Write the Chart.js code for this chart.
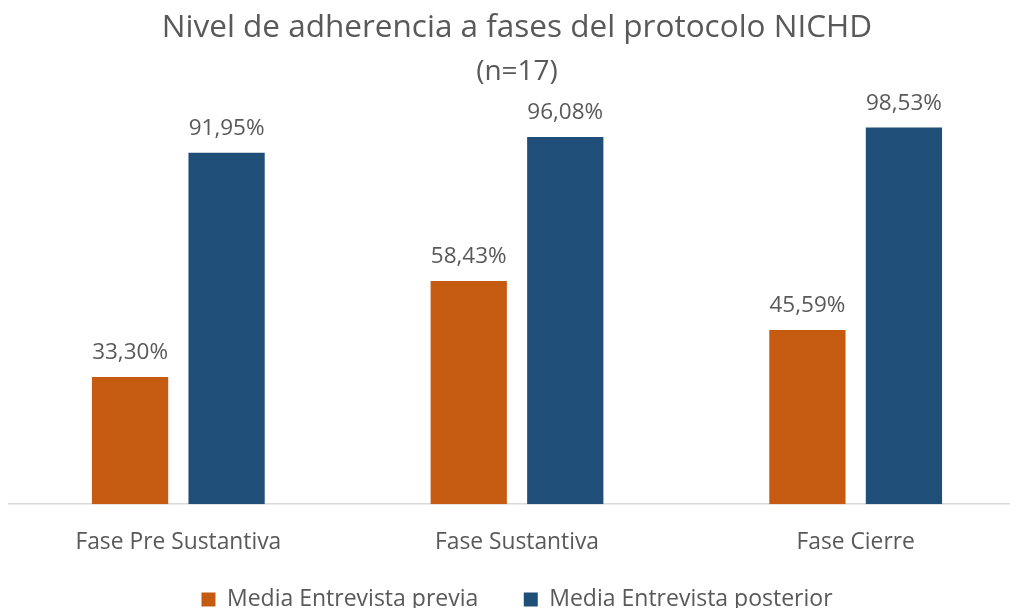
<!DOCTYPE html>
<html>
<head>
<meta charset="utf-8">
<script src="https://cdn.jsdelivr.net/npm/chart.js@4/dist/chart.umd.min.js"></script>
<style>
  html, body { margin: 0; padding: 0; background: #fff; overflow: hidden; }
  #wrap { position: relative; width: 1034px; height: 621px; }
</style>
</head>
<body>
<div id="wrap"><canvas id="adherenciaChart"></canvas></div>
<script>
// Chart data
const categories = ['Fase Pre Sustantiva', 'Fase Sustantiva', 'Fase Cierre'];
const seriesNames = ['Media Entrevista previa', 'Media Entrevista posterior'];
const previa = [33.30, 58.43, 45.59];
const posterior = [91.95, 96.08, 98.53];

const textColor = '#595959';
const fontFamily = '"Open Sans", sans-serif';

// Value above each bar, with decimal comma
const barLabels = {
  id: 'barLabels',
  afterDatasetsDraw(chart) {
    const ctx = chart.ctx;
    ctx.save();
    ctx.font = '22.5px ' + fontFamily;
    ctx.fillStyle = textColor;
    ctx.textAlign = 'center';
    ctx.textBaseline = 'middle';
    chart.data.datasets.forEach((ds, i) => {
      chart.getDatasetMeta(i).data.forEach((bar, j) => {
        const txt = ds.data[j].toFixed(2).replace('.', ',') + '%';
        ctx.fillText(txt, bar.x, bar.y - 24);
      });
    });
    ctx.restore();
  }
};

const ctx = document.getElementById('adherenciaChart');
new Chart(ctx, {
  type: 'bar',
  data: {
    labels: categories,
    datasets: [
      {
        label: seriesNames[0],
        data: previa,
        backgroundColor: '#C55A11',
        categoryPercentage: 0.57,
        barPercentage: 0.79
      },
      {
        label: seriesNames[1],
        data: posterior,
        backgroundColor: '#1F4E79',
        categoryPercentage: 0.57,
        barPercentage: 0.79
      }
    ]
  },
  options: {
    responsive: true,
    maintainAspectRatio: false,
    animation: false,
    layout: {
      padding: { left: 9, right: 9, top: 0, bottom: 0 }
    },
    plugins: {
      title: {
        display: true,
        text: 'Nivel de adherencia a fases del protocolo NICHD',
        color: textColor,
        font: { family: fontFamily, size: 31.5, weight: 'normal' },
        padding: { top: 9, bottom: 0 }
      },
      subtitle: {
        display: true,
        text: '(n=17)',
        color: textColor,
        font: { family: fontFamily, size: 28, weight: 'normal' },
        padding: { top: 8, bottom: 33.6 }
      },
      legend: {
        position: 'bottom',
        labels: {
          color: textColor,
          font: { family: fontFamily, size: 23 },
          boxWidth: 14,
          boxHeight: 14,
          padding: 34,
          // a little extra room after the first entry, like the original
          generateLabels(chart) {
            const items = Chart.defaults.plugins.legend.labels.generateLabels(chart);
            items[0].text += '\u2002';
            return items;
          }
        }
      },
      tooltip: { enabled: false }
    },
    scales: {
      x: {
        // tickLength only spaces the labels, the ticks are not drawn
        grid: { display: false, tickLength: 27 },
        border: { display: true, color: '#D9D9D9', width: 1.5 },
        ticks: {
          color: textColor,
          font: { family: fontFamily, size: 22.8, lineHeight: 1 },
          padding: 0
        }
      },
      y: {
        display: false,
        min: 0,
        max: 100
      }
    }
  },
  plugins: [barLabels]
});
</script>
</body>
</html>
